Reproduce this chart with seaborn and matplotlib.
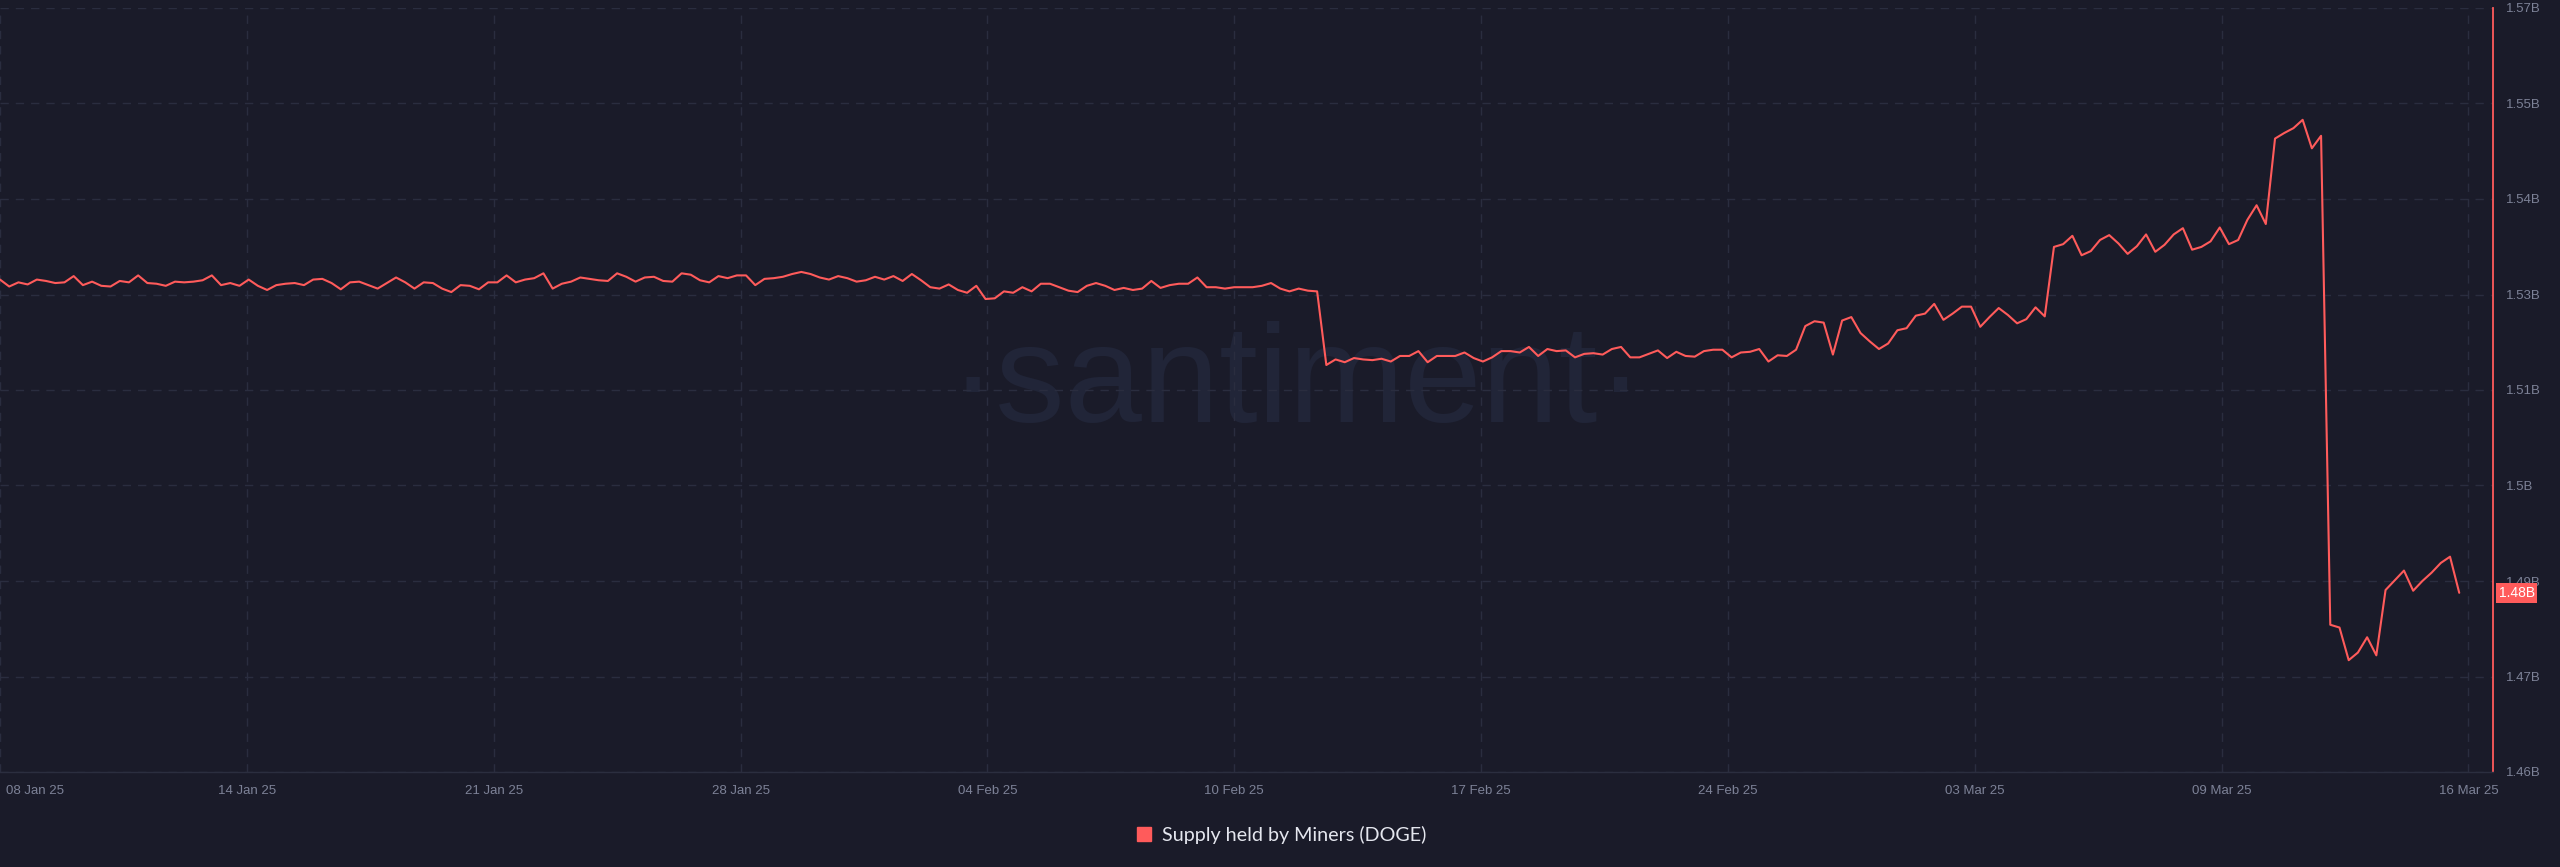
import numpy as np
import pandas as pd
import matplotlib
matplotlib.use("Agg")
import matplotlib.pyplot as plt
import matplotlib.dates as mdates
import matplotlib.transforms as mtransforms
from matplotlib import font_manager
from matplotlib.lines import Line2D
import seaborn as sns

# colours (santiment dark theme)
BG = "#1a1b29"
LINE = "#ff5b5b"
GRID = "#2a2d3f"
TICK = "#7d8297"
WATERMARK = "#212538"

SERIES_NAME = "Supply held by Miners (DOGE)"
START = "2025-01-08"
END = "2025-03-16"

# supply held by miners, billions DOGE, one value every 6 hours
supply_jan = [
    1.5284, 1.5274, 1.5280, 1.5277, 1.5284, 1.5282, 1.5279, 1.5280, 1.5289, 1.5276,
    1.5281, 1.5275, 1.5274, 1.5282, 1.5280, 1.5290, 1.5279, 1.5278, 1.5275, 1.5281,
    1.5280, 1.5281, 1.5283, 1.5290, 1.5276, 1.5279, 1.5275, 1.5284, 1.5275, 1.5269,
    1.5276, 1.5278, 1.5279, 1.5276, 1.5284, 1.5285, 1.5279, 1.5270, 1.5280, 1.5281,
    1.5276, 1.5271, 1.5279, 1.5287, 1.5280, 1.5271, 1.5280, 1.5279, 1.5271, 1.5266,
    1.5276, 1.5275, 1.5270, 1.5280, 1.5280, 1.5290, 1.5280, 1.5284, 1.5286, 1.5293,
    1.5271, 1.5278, 1.5281, 1.5287, 1.5285, 1.5283, 1.5282, 1.5293, 1.5288, 1.5281,
]
supply_feb_a = [
    1.5287, 1.5288, 1.5282, 1.5281, 1.5293, 1.5291, 1.5283, 1.5280, 1.5289, 1.5286,
    1.5290, 1.5290, 1.5276, 1.5285, 1.5286, 1.5288, 1.5292, 1.5295, 1.5292, 1.5287,
    1.5284, 1.5289, 1.5286, 1.5281, 1.5283, 1.5288, 1.5284, 1.5289, 1.5282, 1.5292,
    1.5283, 1.5273, 1.5271, 1.5277, 1.5269, 1.5265, 1.5275, 1.5256, 1.5257, 1.5267,
    1.5265, 1.5273, 1.5267, 1.5278, 1.5278, 1.5273, 1.5268, 1.5266, 1.5275, 1.5279,
    1.5275, 1.5269, 1.5272, 1.5269, 1.5271, 1.5282, 1.5272, 1.5276, 1.5278, 1.5278,
    1.5287, 1.5273, 1.5273, 1.5271, 1.5273, 1.5273, 1.5273, 1.5275, 1.5279, 1.5271,
    1.5267, 1.5271, 1.5268, 1.5267,
]
supply_feb_b = [
    1.5161, 1.5169, 1.5165, 1.5171, 1.5169, 1.5168, 1.5170, 1.5166, 1.5174, 1.5174,
    1.5181, 1.5165, 1.5174, 1.5174, 1.5174, 1.5179, 1.5171, 1.5166, 1.5172, 1.5181,
    1.5181, 1.5179, 1.5187, 1.5174, 1.5184, 1.5181, 1.5182, 1.5172, 1.5177, 1.5178,
    1.5176, 1.5184, 1.5187, 1.5172, 1.5172, 1.5177, 1.5182, 1.5171, 1.5180, 1.5174,
    1.5173, 1.5181, 1.5183, 1.5183, 1.5172, 1.5179, 1.5180, 1.5184, 1.5166, 1.5175,
    1.5174, 1.5183, 1.5217, 1.5224, 1.5222, 1.5176, 1.5225, 1.5230, 1.5207, 1.5195,
    1.5184, 1.5192, 1.5211, 1.5214, 1.5232,
]
supply_mar = [
    1.5235, 1.5249, 1.5226, 1.5235, 1.5245, 1.5245, 1.5216, 1.5230, 1.5243, 1.5233,
    1.5221, 1.5227, 1.5244, 1.5231, 1.5331, 1.5335, 1.5347, 1.5319, 1.5325, 1.5341,
    1.5348, 1.5336, 1.5321, 1.5332, 1.5349, 1.5324, 1.5334, 1.5349, 1.5358, 1.5327,
    1.5331, 1.5339, 1.5359, 1.5335, 1.5341, 1.5370, 1.5391, 1.5364, 1.5487, 1.5495,
    1.5502, 1.5514, 1.5473, 1.5491, 1.4787, 1.4783, 1.4736, 1.4747, 1.4769, 1.4743,
    1.4837, 1.4851, 1.4865, 1.4836, 1.4850, 1.4862, 1.4876, 1.4885, 1.4833,
]

x_tick_labels = ["08 Jan 25", "14 Jan 25", "21 Jan 25", "28 Jan 25", "04 Feb 25", "10 Feb 25",
                 "17 Feb 25", "24 Feb 25", "03 Mar 25", "09 Mar 25", "16 Mar 25"]
y_tick_labels = ["1.46B", "1.47B", "1.49B", "1.5B", "1.51B", "1.53B", "1.54B", "1.55B", "1.57B"]
Y_MIN, Y_MAX = 1.4575, 1.5675

values = supply_jan + supply_feb_a + supply_feb_b + supply_mar
df = pd.DataFrame({
    "date": pd.date_range(START, periods=len(values), freq="6h"),
    "supply": values,
})

sns.set_theme(style="dark")
plt.rcParams["font.family"] = ["Liberation Sans", "DejaVu Sans"]

installed = {f.name for f in font_manager.fontManager.ttflist}
wm_font = "Liberation Sans Narrow" if "Liberation Sans Narrow" in installed else "Liberation Sans"

fig = plt.figure(figsize=(25.6, 8.67), dpi=100, facecolor=BG)
ax = fig.add_axes([0, 95 / 867, 2493 / 2560, 764 / 867])
ax.set_facecolor(BG)

# watermark
ax.text(0.52, 0.458, "·santiment·", transform=ax.transAxes, ha="center", va="baseline",
        fontsize=120 if wm_font.endswith("Narrow") else 100, color=WATERMARK,
        family=[wm_font, "DejaVu Sans"], zorder=0)

sns.lineplot(data=df, x="date", y="supply", ax=ax, color=LINE, linewidth=1.5, legend=False, zorder=3)

t0, t1 = pd.Timestamp(START), pd.Timestamp(END)
ax.set_xlim(mdates.date2num(t0), mdates.date2num(t1 + pd.Timedelta(hours=16)))
ax.set_xticks(mdates.date2num(pd.date_range(t0, t1, periods=len(x_tick_labels))))
ax.set_xticklabels(x_tick_labels)

ax.set_ylim(Y_MIN, Y_MAX)
ax.set_yticks(np.linspace(Y_MIN, Y_MAX, len(y_tick_labels)))
ax.set_yticklabels(y_tick_labels)
ax.yaxis.tick_right()

ax.set_xlabel("")
ax.set_ylabel("")
ax.grid(True, color=GRID, linestyle=(0, (6, 5)), linewidth=1)
ax.tick_params(axis="x", length=0, pad=9, labelsize=9.5, labelcolor=TICK)
ax.tick_params(axis="y", length=0, pad=9, labelsize=9.5, labelcolor=TICK)

# first date label sits inside the frame
first = ax.get_xticklabels()[0]
first.set_ha("left")
first.set_transform(first.get_transform() + mtransforms.ScaledTranslation(0.06, 0, fig.dpi_scale_trans))

for side in ["top", "left"]:
    ax.spines[side].set_visible(False)
ax.spines["right"].set_color(LINE)
ax.spines["right"].set_linewidth(1.3)
ax.spines["bottom"].set_color("#2b2e3f")
ax.spines["bottom"].set_linewidth(1)

# last value badge
ax.annotate(f"{values[-1]:.2f}B", xy=(1, values[-1]), xycoords=ax.get_yaxis_transform(),
            xytext=(4, 0), textcoords="offset points", ha="left", va="center",
            fontsize=10, color="white", annotation_clip=False,
            bbox=dict(boxstyle="square,pad=0.2", fc=LINE, ec="none"))

handle = Line2D([], [], marker="s", linestyle="none", markersize=9.4, color=LINE)
fig.legend(handles=[handle], labels=[SERIES_NAME], loc="center", bbox_to_anchor=(0.5, 0.037),
           frameon=False, labelcolor="#e4e6ee", handletextpad=0.4, handlelength=1.0,
           prop={"family": ["Lato", "DejaVu Sans"], "size": 14.2})

fig.savefig("out.png", dpi=100, facecolor=BG)
